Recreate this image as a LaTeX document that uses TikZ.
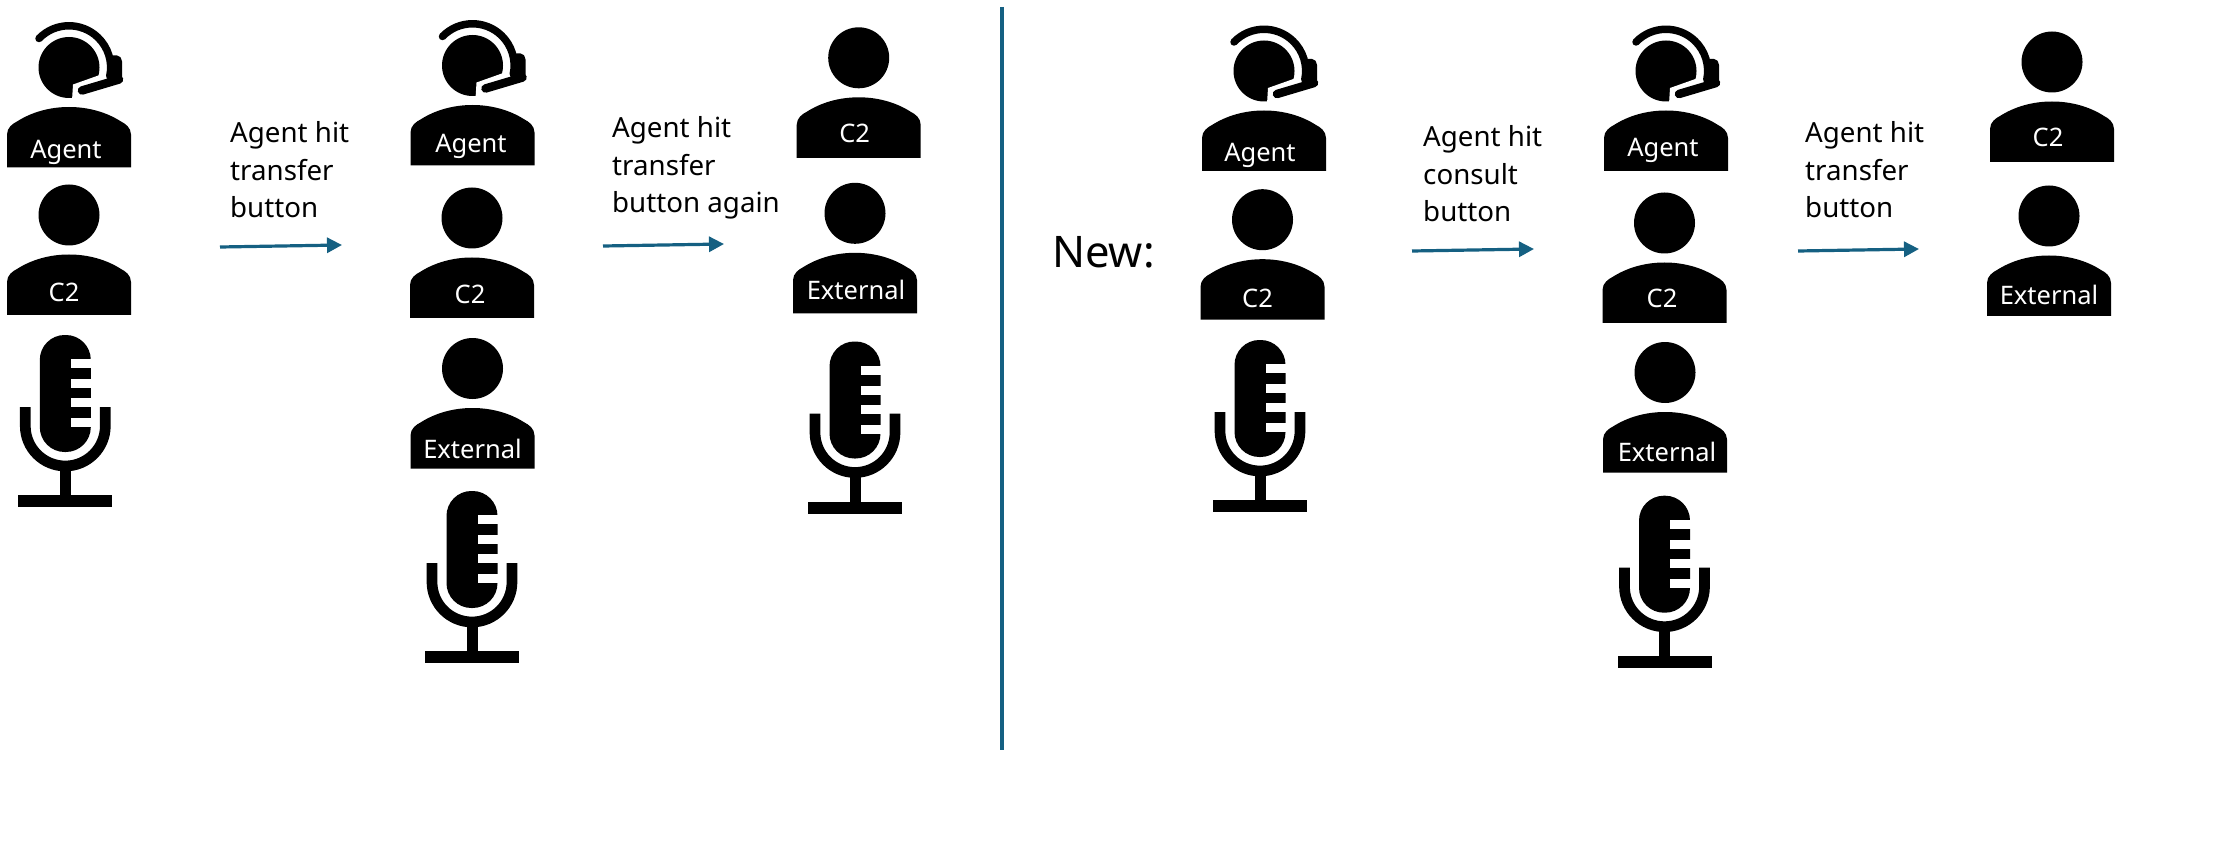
\documentclass[tikz,border=0pt]{standalone}
\usepackage{fontspec}
\setmainfont{Noto Sans}
\usetikzlibrary{arrows.meta}
\definecolor{flowblue}{HTML}{156082}
\tikzset{
  x=1pt,y=-1pt,
  flow/.style={flowblue,line width=3.2pt,-{Triangle[length=15pt,width=15pt]}},
  divider/.style={flowblue,line width=3.5pt},
  badge/.style={text=white,font=\fontsize{25.5}{30}\selectfont,inner sep=0pt},
  stepnote/.style={anchor=west,align=left,inner sep=0pt,font=\fontsize{27.7}{37.5}\selectfont},
}
% person: #1 name, #2 x centre, #3 y head centre, #4 label, #5 label dx, #6 label dy
\newcommand{\personicon}[6]{%
  \fill (#2,#3) circle[radius=30.5];
  \fill (#2-62,#3+100) -- (#2-62,#3+67) .. controls (#2-62,#3+60) and (#2-56,#3+56) .. (#2-52,#3+54)
        .. controls (#2-38,#3+45) and (#2-20,#3+39.5) .. (#2,#3+39.5)
        .. controls (#2+20,#3+39.5) and (#2+38,#3+45) .. (#2+52,#3+54)
        .. controls (#2+56,#3+56) and (#2+62,#3+60) .. (#2+62,#3+67) -- (#2+62,#3+100) -- cycle;
  \node[badge] (#1) at (#2+#5,#3+#6) {#4};
}
% agent: person with a headset
\newcommand{\agenticon}[6]{%
  \personicon{#1}{#2}{#3}{#4}{#5}{#6}
  \fill[white] (#2+3,#3+33) -- (#2+4,#3+17) -- (#2+35,#3+6) -- (#2+42,#3+32) -- cycle;
  \draw[line width=7.5pt,line cap=round] (#2-30,#3-29) arc[start angle=-136,end angle=12,radius=41.7];
  \fill[rounded corners=2pt] (#2+42,#3-12) -- (#2+50,#3-12) -- (#2+53,#3-8) -- (#2+53,#3+13) -- (#2+42,#3+16) -- cycle;
  \draw[line width=8.5pt,line cap=round] (#2+13,#3+23) -- (#2+50,#3+12);
}
% microphone: #1 x centre, #2 y top
\newcommand{\micicon}[2]{%
  \fill[rounded corners=24.9pt] (#1-25.5,#2) rectangle (#1+25.5,#2+117);
  \foreach \s in {24,44,63,83}{\fill[white] (#1+5.5,#2+\s) rectangle (#1+27,#2+\s+9.3);}
  \draw[line width=10.7pt] (#1-40,#2+72) -- (#1-40,#2+91) arc[start angle=180,end angle=0,radius=40] -- (#1+40,#2+72);
  \fill (#1-5.5,#2+130) rectangle (#1+5.5,#2+161);
  \fill (#1-47,#2+160) rectangle (#1+47,#2+172);
}
\begin{document}
\begin{tikzpicture}
\useasboundingbox (0,0) rectangle (2214,850);
\fill[white] (0,0) rectangle (2214,850);
% left scenario
\agenticon{aA}{69}{67.5}{Agent}{-3}{85}
\personicon{aB}{69}{215}{C2}{-5}{77.5}
\micicon{65.3}{335}
\agenticon{bA}{472.5}{65.5}{Agent}{-1.5}{81}
\personicon{bB}{472}{218}{C2}{-2}{76}
\personicon{bC}{472.5}{368.5}{External}{0}{80.5}
\micicon{472}{491}
\personicon{cA}{858.7}{57.8}{C2}{-4}{75.5}
\personicon{cB}{855}{213.3}{External}{1}{76.5}
\micicon{855}{341.5}
% right scenario
\agenticon{dA}{1264}{71}{Agent}{-4}{84.5}
\personicon{dB}{1262.5}{219.7}{C2}{-5}{79}
\micicon{1260}{340}
\agenticon{eA}{1666}{71}{Agent}{-3}{79.5}
\personicon{eB}{1664.5}{223}{C2}{-2.5}{75}
\personicon{eC}{1665}{372.5}{External}{2}{79}
\micicon{1664.5}{495.7}
\personicon{fA}{2052}{62}{C2}{-4}{75}
\personicon{fB}{2049}{216}{External}{0}{79}
% arrows
\coordinate (p1s) at (220,247); \coordinate (p1e) at (342,245);
\coordinate (p2s) at (603,246); \coordinate (p2e) at (724,244);
\coordinate (p3s) at (1412,251); \coordinate (p3e) at (1534,249);
\coordinate (p4s) at (1798,251); \coordinate (p4e) at (1919,249);
\draw[flow] (p1s) -- (p1e);
\draw[flow] (p2s) -- (p2e);
\draw[flow] (p3s) -- (p3e);
\draw[flow] (p4s) -- (p4e);
% notes
\node[stepnote] (n1) at (230,170) {Agent hit\\transfer\\button};
\node[stepnote] (n2) at (612,168) {Agent hit\\transfer\\button again};
\node[stepnote] (n3) at (1423,174) {Agent hit\\consult\\button};
\node[stepnote] (n4) at (1805,170) {Agent hit\\transfer\\button};
\node[anchor=west,inner sep=0pt,font=\fontsize{43.5}{50}\selectfont] (newl) at (1052,252) {New:};
% divider
\coordinate (d1) at (1002,7); \coordinate (d2) at (1002,750);
\draw[divider] (d1) -- (d2);
\end{tikzpicture}
\end{document}
